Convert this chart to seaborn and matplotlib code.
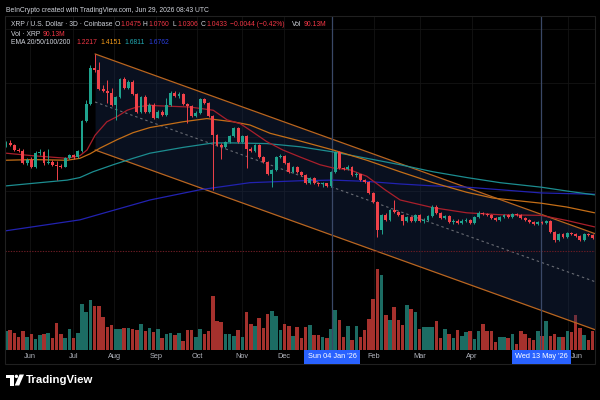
import numpy as np
import pandas as pd
import matplotlib
matplotlib.use("Agg")
import matplotlib.pyplot as plt
import matplotlib.transforms as mtrans
from matplotlib.patches import Rectangle, Polygon, Ellipse
import seaborn as sns

# ---------------- data (3D candles, XRP/USD) ----------------
first_open = 2.22
close = [2.27, 2.24, 2.16, 2.14, 1.96, 2.00, 1.89, 2.11, 2.13, 1.96,
         1.97, 1.93, 1.91, 1.90, 2.04, 2.08, 2.05, 2.14, 2.61, 2.88,
         3.44, 3.41, 3.11, 3.08, 3.05, 2.86, 2.99, 3.27, 3.13, 3.22,
         3.03, 2.75, 2.99, 2.75, 2.86, 2.66, 2.75, 2.71, 2.86, 3.05,
         3.00, 3.03, 2.88, 2.85, 2.69, 2.74, 2.96, 2.89, 2.69, 2.39,
         2.24, 2.21, 2.28, 2.38, 2.50, 2.28, 2.38, 2.18, 2.14, 2.24,
         2.05, 1.97, 1.79, 1.85, 2.05, 2.07, 1.96, 1.82, 1.89, 1.82,
         1.77, 1.65, 1.72, 1.65, 1.63, 1.64, 1.60, 1.82, 2.13, 1.88,
         1.86, 1.89, 1.77, 1.78, 1.69, 1.66, 1.49, 1.35, 0.91, 1.15,
         1.07, 1.22, 1.19, 1.15, 1.05, 1.11, 1.05, 1.15, 1.05, 1.07,
         1.13, 1.27, 1.18, 1.10, 1.13, 1.04, 1.06, 1.02, 1.05, 1.07,
         1.02, 1.11, 1.18, 1.16, 1.15, 1.10, 1.07, 1.11, 1.15, 1.11,
         1.16, 1.15, 1.10, 1.07, 1.04, 1.01, 1.04, 1.02, 1.05, 0.88,
         0.76, 0.85, 0.80, 0.87, 0.85, 0.82, 0.76, 0.85, 0.83, 0.79]
high = [2.30, 2.32, 2.25, 2.19, 2.18, 2.04, 2.05, 2.14, 2.18, 2.14,
        2.18, 2.00, 1.99, 1.94, 2.05, 2.10, 2.10, 2.16, 2.63, 2.94,
        3.49, 3.66, 3.53, 3.17, 3.25, 3.13, 3.00, 3.28, 3.30, 3.25,
        3.25, 3.05, 3.00, 3.02, 2.89, 2.89, 2.78, 2.78, 2.97, 3.08,
        3.08, 3.06, 3.05, 2.89, 2.86, 2.77, 2.97, 2.97, 2.91, 2.71,
        2.41, 2.27, 2.30, 2.39, 2.52, 2.52, 2.39, 2.39, 2.21, 2.25,
        2.25, 2.07, 1.99, 1.86, 2.07, 2.10, 2.08, 1.97, 1.91, 1.91,
        1.83, 1.79, 1.74, 1.74, 1.66, 1.66, 1.65, 1.83, 2.14, 2.14,
        1.89, 1.93, 1.91, 1.82, 1.79, 1.71, 1.68, 1.50, 1.36, 1.16,
        1.18, 1.24, 1.38, 1.21, 1.16, 1.13, 1.13, 1.16, 1.16, 1.10,
        1.15, 1.30, 1.30, 1.19, 1.15, 1.15, 1.08, 1.08, 1.08, 1.10,
        1.08, 1.13, 1.21, 1.19, 1.18, 1.16, 1.11, 1.13, 1.16, 1.16,
        1.18, 1.18, 1.16, 1.11, 1.08, 1.05, 1.05, 1.05, 1.07, 1.07,
        0.90, 0.87, 0.87, 0.88, 0.88, 0.87, 0.83, 0.87, 0.87, 0.85]
low = [2.21, 2.22, 2.14, 2.13, 1.94, 1.93, 1.88, 1.88, 2.08, 1.93,
       1.94, 1.91, 1.69, 1.88, 1.89, 2.02, 2.02, 2.04, 2.13, 2.60,
       2.86, 3.38, 3.10, 3.06, 2.89, 2.85, 2.63, 2.97, 3.11, 3.11,
       3.02, 2.74, 2.74, 2.74, 2.74, 2.64, 2.66, 2.69, 2.69, 2.85,
       2.99, 2.97, 2.86, 2.58, 2.67, 2.67, 2.72, 2.88, 2.67, 1.54,
       2.22, 2.02, 2.19, 2.27, 2.36, 2.27, 2.27, 1.88, 2.13, 2.13,
       2.04, 1.96, 1.77, 1.58, 1.83, 2.04, 1.94, 1.80, 1.80, 1.80,
       1.75, 1.63, 1.63, 1.63, 1.60, 1.58, 1.58, 1.58, 1.80, 1.86,
       1.85, 1.85, 1.75, 1.74, 1.68, 1.65, 1.47, 1.33, 0.80, 0.85,
       1.05, 1.05, 1.18, 1.13, 0.99, 1.04, 1.04, 1.04, 1.04, 1.02,
       1.05, 1.11, 1.16, 1.08, 1.08, 1.02, 1.01, 1.01, 1.01, 1.04,
       1.01, 1.01, 1.10, 1.15, 1.13, 1.08, 1.05, 1.05, 1.10, 1.10,
       1.10, 1.13, 1.08, 1.05, 1.02, 0.99, 0.99, 1.01, 1.01, 0.87,
       0.72, 0.74, 0.79, 0.79, 0.83, 0.80, 0.74, 0.74, 0.82, 0.77]
volume_m = [58, 62, 54, 39, 58, 39, 50, 34, 47, 50,
            54, 37, 84, 51, 37, 65, 36, 53, 143, 119,
            155, 135, 135, 101, 70, 78, 64, 64, 68, 68,
            65, 63, 82, 58, 67, 56, 66, 37, 51, 54,
            47, 54, 27, 62, 62, 39, 65, 50, 60, 168,
            91, 88, 51, 51, 44, 62, 41, 117, 81, 75,
            99, 67, 112, 122, 106, 62, 82, 75, 44, 72,
            37, 72, 78, 47, 47, 39, 37, 64, 124, 93,
            41, 75, 31, 75, 41, 63, 96, 158, 251, 233,
            109, 93, 134, 93, 78, 140, 127, 119, 65, 70,
            72, 72, 89, 37, 64, 51, 37, 62, 44, 56,
            58, 34, 58, 82, 60, 58, 24, 39, 41, 37,
            50, 20, 58, 50, 36, 31, 60, 44, 91, 44,
            50, 39, 41, 60, 55, 109, 67, 47, 31, 60]

# EMA readings (candle index, price)
ema20_idx = [0, 6.4, 14.5, 17.5, 19.2, 21.1, 23.9, 26.3, 28.7, 31.0, 34.1, 35.8, 43.6, 49.1, 52.4,
             55.5, 57.8, 61.8, 65.6, 69.7, 74.4, 77.5, 81.5, 85.5, 89.8, 93.4, 101.2, 109.2, 117.1,
             126.8, 132.9, 139.5]
ema20_val = [2.11, 2.07, 2.03, 2.07, 2.16, 2.39, 2.60, 2.68, 2.78, 2.83, 2.86, 2.85, 2.83, 2.78, 2.63,
             2.57, 2.47, 2.29, 2.16, 2.05, 1.93, 1.88, 1.85, 1.75, 1.54, 1.38, 1.26, 1.18, 1.15,
             1.14, 1.06, 0.96]
ema50_idx = [0, 6.4, 14.5, 17.5, 19.9, 22.3, 26.3, 30.1, 34.1, 41.9, 47.6, 53.8, 57.8, 62.6, 69.7,
             77.5, 85.5, 93.4, 101.2, 109.2, 115.4, 126.8, 132.9, 139.5]
ema50_val = [2.00, 2.01, 2.00, 2.03, 2.10, 2.19, 2.32, 2.43, 2.51, 2.60, 2.65, 2.60, 2.55, 2.42, 2.30,
             2.16, 2.00, 1.82, 1.65, 1.50, 1.41, 1.33, 1.27, 1.18]
ema100_idx = [0, 6.4, 14.5, 17.5, 20.6, 25.4, 30.1, 34.1, 41.9, 49.1, 53.8, 61.8, 69.7, 77.5, 85.5,
              93.4, 101.2, 109.2, 117.1, 126.8, 132.9, 139.5]
ema100_val = [1.60, 1.64, 1.69, 1.73, 1.82, 1.93, 2.03, 2.11, 2.20, 2.27, 2.27, 2.26, 2.21, 2.13, 2.03,
              1.93, 1.82, 1.73, 1.65, 1.58, 1.52, 1.46]
ema200_idx = [0, 17.5, 22.3, 34.1, 46.0, 57.8, 69.7, 77.5, 85.5, 93.4, 101.2, 109.2, 117.1, 126.8,
              132.9, 139.5]
ema200_val = [0.90, 1.07, 1.16, 1.38, 1.54, 1.65, 1.68, 1.69, 1.67, 1.63, 1.60, 1.58, 1.54, 1.49,
              1.48, 1.47]

# descending channel (drawn from the July high)
channel_idx = [21.1, 139.6]
channel_upper = [3.658, 0.854]
channel_width = 1.498
price_line = 0.584
grid_prices = [4.05, 3.21, 2.36, 1.52]

month_labels = ["Jun", "Jul", "Aug", "Sep", "Oct", "Nov", "Dec", "Feb", "Mar", "Apr", "Jun"]
month_pos = [5.7, 15.9, 25.6, 35.5, 45.3, 55.9, 65.9, 87.2, 98.1, 110.4, 135.2]
crosshair_pos = [77.25, 126.8]
crosshair_labels = ["Sun 04 Jan '26", "Wed 13 May '26"]

# ---------------- frame ----------------
opens = [first_open] + close[:-1]
df = pd.DataFrame({"idx": np.arange(len(close)), "open": opens, "high": high,
                   "low": low, "close": close, "volume": volume_m})
df["up"] = df["close"] >= df["open"]

sns.set_theme(style="dark", rc={"axes.facecolor": "black", "figure.facecolor": "black",
                                "savefig.facecolor": "black"})
plt.rcParams["font.family"] = ["Liberation Sans", "DejaVu Sans"]

W, H = 600, 400
fig = plt.figure(figsize=(6, 4), dpi=100)
fig.patch.set_facecolor("black")
px = mtrans.Affine2D().scale(1 / W, -1 / H).translate(0, 1) + fig.transFigure
renderer = fig.canvas.get_renderer()

rect = [5 / W, 50 / H, 590 / W, 334 / H]
axv = fig.add_axes(rect)
ax = fig.add_axes(rect)
XL = (-0.24, 139.57)
for a in (axv, ax):
    a.set_xlim(*XL)
    a.set_axis_off()
ax.set_ylim(-0.96, 4.25)
axv.set_ylim(0, 1035)

# grid
for m in month_pos[:-1] + [133.2]:
    axv.axvline(m, color="#141414", lw=0.6, zorder=0)
for g in grid_prices:
    ax.axhline(g, color="#141414", lw=0.6, zorder=0)

# volume
GREEN, RED = "#1fa38e", "#f0424a"
VG, VR = "#1c6c63", "#a5312d"
axv.bar(df["idx"], df["volume"], width=0.84, color=np.where(df["up"], VG, VR), lw=0, zorder=1)

# channel
cx = np.array(channel_idx)
cu = np.array(channel_upper)
cl = cu - channel_width
cm = cu - channel_width / 2
ax.fill_between(cx, cl, cu, color="#1a2c52", alpha=0.38, lw=0, zorder=1)
ax.plot(cx, cu, color="#b9651f", lw=0.9, zorder=2)
ax.plot(cx, cl, color="#b9651f", lw=0.9, zorder=2)
ax.plot(cx, cm, color="#686b73", lw=0.8, ls=(0, (2.2, 2.6)), zorder=2)

# price line and crosshair verticals
ax.axhline(price_line, color="#6a1c24", lw=0.8, ls=(0, (1.2, 1.2)), zorder=2)
for c in crosshair_pos:
    ax.axvline(c, color="#3a4867", lw=0.9, zorder=2)

# EMAs
for xi, yi, col in [(ema200_idx, ema200_val, "#2222b0"), (ema100_idx, ema100_val, "#1c8d90"),
                    (ema50_idx, ema50_val, "#c46e17"), (ema20_idx, ema20_val, "#a91f2b")]:
    sns.lineplot(x=xi, y=yi, ax=ax, color=col, lw=0.9, zorder=3, estimator=None, sort=False)
ax.set_axis_off()

# candles
cols = np.where(df["up"], GREEN, RED)
ax.vlines(df["idx"], df["low"], df["high"], colors=cols, lw=0.7, zorder=4)
body_lo = np.minimum(df["open"], df["close"])
body_h = np.maximum(np.abs(df["close"] - df["open"]), 0.012)
ax.bar(df["idx"], body_h, bottom=body_lo, width=0.68, color=cols, lw=0, zorder=5)

# x-axis labels
bt = mtrans.blended_transform_factory(ax.transData, px)
for lab, pos in zip(month_labels, month_pos):
    fig.text(pos, 357, lab, transform=bt, ha="center", va="center", fontsize=5.3, color="#b2b5be")
for lab, pos in zip(crosshair_labels, crosshair_pos):
    fig.text(pos, 357, lab, transform=bt, ha="center", va="center", fontsize=5.3, color="white",
             bbox=dict(boxstyle="square,pad=0.42", fc="#2962ff", ec="none"), zorder=10)

# frame border
fig.patches.append(Rectangle((5, 16), 590, 348, transform=px, fill=False, ec="#202020", lw=0.8))

# header texts (placed left to right, never overlapping)
GRAY = "#d1d4dc"
RD = "#f23645"
HFS = 4.9


def text_run(y, pieces, gap=1.0):
    prev_end = -1e9
    for t, x, c in pieces:
        x0 = max(x, prev_end + gap)
        tx = fig.text(x0, y, t, transform=px, fontsize=HFS, color=c, va="center")
        prev_end = x0 + tx.get_window_extent(renderer).width


text_run(10, [("BeInCrypto created with TradingView.com, Jun 29, 2026 08:43 UTC", 6, GRAY)])
text_run(24, [("XRP / U.S. Dollar · 3D · Coinbase", 11, GRAY), ("O", 114.3, GRAY), ("1.0475", 118.3, RD),
              ("H", 142.7, GRAY), ("1.0760", 147.7, RD), ("L", 172.7, GRAY), ("1.0306", 176.5, RD),
              ("C", 201, GRAY), ("1.0433", 204.8, RD), ("−0.0044 (−0.42%)", 230, RD),
              ("Vol", 291.7, GRAY), ("90.13M", 303.5, RD)])
text_run(34, [("Vol · XRP", 11, GRAY), ("90.13M", 42.3, RD)])
text_run(43, [("EMA 20/50/100/200", 11, GRAY), ("1.2217", 76.7, "#f23645"), ("1.4151", 100.7, "#f59c1a"),
              ("1.6811", 122.3, "#22a9b3"), ("1.6762", 145, "#2b3fe0")], gap=3.0)

# TradingView logo
fig.patches.append(Rectangle((6, 374.5), 7.5, 3, transform=px, fc="white", ec="none"))
fig.patches.append(Rectangle((10, 374.5), 3.5, 11, transform=px, fc="white", ec="none"))
fig.patches.append(Ellipse((16.4, 376.4), 3.4, 3.4, transform=px, fc="white", ec="none"))
fig.patches.append(Polygon([(19.5, 374.5), (24, 374.5), (19.2, 385.5), (14.7, 385.5)],
                           closed=True, transform=px, fc="white", ec="none"))
fig.text(26, 380, "TradingView", transform=px, fontsize=8.2, fontweight="bold", color="white",
         va="center")

fig.savefig("out.png", dpi=100, facecolor="black")
